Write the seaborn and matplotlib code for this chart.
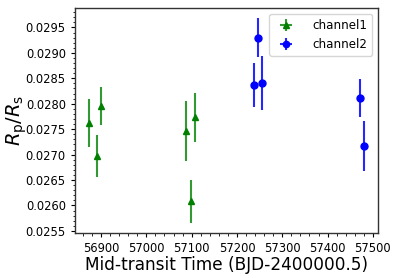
import numpy as np
import matplotlib
matplotlib.use("Agg")
import matplotlib.pyplot as plt
import seaborn as sns
from matplotlib.ticker import AutoMinorLocator

# transit times (BJD-2400000.5) and radius ratios
ch1_time = [56872.6, 56891.0, 56900.7, 57088.0, 57097.6, 57106.4]
ch1_rprs = [0.02762, 0.02697, 0.02796, 0.02746, 0.02608, 0.02773]
ch1_err = [0.00048, 0.00041, 0.00037, 0.00059, 0.00042, 0.00049]

ch2_time = [57237.6, 57247.0, 57256.0, 57471.5, 57481.0]
ch2_rprs = [0.02837, 0.02930, 0.02840, 0.02811, 0.02717]
ch2_err = [0.00043, 0.00038, 0.00053, 0.00037, 0.00049]

sns.set_style("ticks")
plt.rcParams['font.family'] = ['DejaVu Sans']
plt.rcParams['text.color'] = 'black'
plt.rcParams['axes.labelcolor'] = 'black'
plt.rcParams['xtick.color'] = 'black'
plt.rcParams['ytick.color'] = 'black'

fig = plt.figure(figsize=(3.98, 2.78), dpi=100)
ax = fig.add_axes([0.188, 0.162, 0.762, 0.809])

ax.errorbar(ch1_time, ch1_rprs, yerr=ch1_err, xerr=np.zeros(len(ch1_time)),
            fmt='^', color='g', ecolor=(0, 0.5, 0, 0.8), markersize=5,
            elinewidth=1.5, label='channel1')
ax.errorbar(ch2_time, ch2_rprs, yerr=ch2_err, xerr=np.zeros(len(ch2_time)),
            fmt='o', color='b', ecolor=(0, 0, 1, 0.85), markersize=5,
            elinewidth=1.5, label='channel2')

ax.set_xticks([56900, 57000, 57100, 57200, 57300, 57400, 57500])
ax.set_yticks(np.arange(0.0255, 0.02951, 0.0005))
ax.yaxis.set_major_formatter(matplotlib.ticker.FormatStrFormatter('%.4f'))
ax.xaxis.set_minor_locator(AutoMinorLocator(5))
ax.yaxis.set_minor_locator(AutoMinorLocator(5))
ax.tick_params(axis='both', which='major', labelsize=8.3, length=3, width=0.8)
ax.tick_params(axis='both', which='minor', length=1.8, width=0.6)
for s in ax.spines.values():
    s.set_color('#333333')
    s.set_linewidth(1.0)

ax.set_xlabel("Mid-transit Time (BJD-2400000.5)", fontsize=12.2, labelpad=1)
ax.set_ylabel(r"$R_\mathrm{p}/R_\mathrm{s}$", fontsize=14)
ax.yaxis.set_label_coords(-0.15, 0.5)
ax.legend(loc='upper right', fontsize=8.6, framealpha=0.8, markerscale=0.9,
          handletextpad=1.2)

fig.savefig("out.png", dpi=100)
